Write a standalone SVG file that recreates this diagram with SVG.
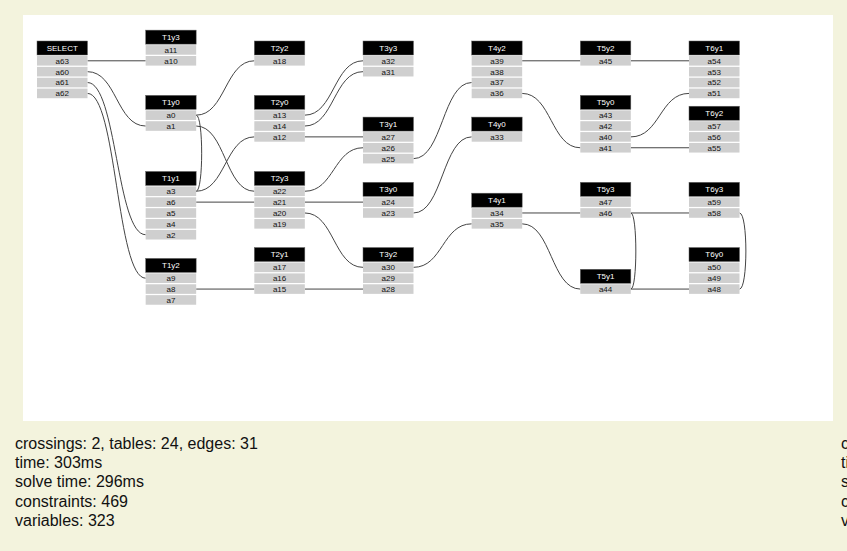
<svg xmlns="http://www.w3.org/2000/svg" width="847" height="551" viewBox="0 0 847 551">
<style>
.h{fill:#000;stroke:#666;stroke-width:0.5}
.ht{fill:#fff;font-family:"Liberation Sans",Arial,sans-serif;font-size:8px;text-anchor:middle}
.r{fill:#cfcfcf}
.rt{fill:#111;font-family:"Liberation Sans",Arial,sans-serif;font-size:8px;text-anchor:middle}
.e{fill:none;stroke:#444;stroke-width:1}
.s{fill:#111;font-family:"Liberation Sans",Arial,sans-serif;font-size:16px}
</style>
<defs>
<rect id="hd" class="h" x="0" y="0" width="50.5" height="14"/>
<rect id="rw" class="r" x="0" y="0" width="50.5" height="9.6"/>
</defs>
<rect x="0" y="0" width="847" height="551" fill="#f3f3dd"/>
<rect x="23" y="15" width="810" height="406" fill="#fff"/>

<g id="connectors">
<path class="e" d="M87.5 60.8H145.67"/>
<path class="e" d="M87.5 71.67C116.58 71.67 116.58 126.02 145.67 126.02"/>
<path class="e" d="M87.5 82.54C116.58 82.54 116.58 234.72 145.67 234.72"/>
<path class="e" d="M87.5 93.41C116.58 93.41 116.58 278.2 145.67 278.2"/>
<path class="e" d="M196.17 115.15C225.25 115.15 225.25 60.8 254.33 60.8"/>
<path class="e" d="M196.17 126.02C225.25 126.02 225.25 191.24 254.33 191.24"/>
<path class="e" d="M196.17 191.24C225.25 191.24 225.25 136.89 254.33 136.89"/>
<path class="e" d="M196.17 202.11H254.33"/>
<path class="e" d="M196.17 289.07H254.33"/>
<path class="e" d="M196.17 115.15C203.5 115.15 203.5 191.24 196.17 191.24"/>
<path class="e" d="M304.83 115.15C333.92 115.15 333.92 60.8 363 60.8"/>
<path class="e" d="M304.83 126.02C333.92 126.02 333.92 71.67 363 71.67"/>
<path class="e" d="M304.83 136.89H363"/>
<path class="e" d="M304.83 191.24C333.92 191.24 333.92 147.76 363 147.76"/>
<path class="e" d="M304.83 202.11H363"/>
<path class="e" d="M304.83 212.98C333.92 212.98 333.92 267.33 363 267.33"/>
<path class="e" d="M304.83 289.07H363"/>
<path class="e" d="M413.5 158.63C442.58 158.63 442.58 82.54 471.67 82.54"/>
<path class="e" d="M413.5 212.98C442.58 212.98 442.58 136.89 471.67 136.89"/>
<path class="e" d="M413.5 267.33C442.58 267.33 442.58 223.85 471.67 223.85"/>
<path class="e" d="M522.17 60.8H580.33"/>
<path class="e" d="M522.17 93.41C551.25 93.41 551.25 147.76 580.33 147.76"/>
<path class="e" d="M522.17 212.98H580.33"/>
<path class="e" d="M522.17 223.85C551.25 223.85 551.25 289.07 580.33 289.07"/>
<path class="e" d="M630.83 60.8H689"/>
<path class="e" d="M630.83 136.89C659.92 136.89 659.92 93.41 689 93.41"/>
<path class="e" d="M630.83 147.76H689"/>
<path class="e" d="M630.83 212.98H689"/>
<path class="e" d="M630.83 289.07H689"/>
<path class="e" d="M630.83 212.98C637.5 212.98 637.5 289.07 630.83 289.07"/>
<path class="e" d="M739.5 212.98C748 212.98 748 289.07 739.5 289.07"/>
</g>

<g id="SELECT" transform="translate(37 41)">
<use href="#hd"/><text class="ht" x="25.25" y="9.9">SELECT</text>
<use href="#rw" y="15"/><text class="rt" x="25.25" y="22.7">a63</text>
<use href="#rw" y="25.87"/><text class="rt" x="25.25" y="33.57">a60</text>
<use href="#rw" y="36.74"/><text class="rt" x="25.25" y="44.44">a61</text>
<use href="#rw" y="47.61"/><text class="rt" x="25.25" y="55.31">a62</text>
</g>

<g id="T1y3" transform="translate(145.67 30.13)">
<use href="#hd"/><text class="ht" x="25.25" y="9.9">T1y3</text>
<use href="#rw" y="15"/><text class="rt" x="25.25" y="22.7">a11</text>
<use href="#rw" y="25.87"/><text class="rt" x="25.25" y="33.57">a10</text>
</g>
<g id="T1y0" transform="translate(145.67 95.35)">
<use href="#hd"/><text class="ht" x="25.25" y="9.9">T1y0</text>
<use href="#rw" y="15"/><text class="rt" x="25.25" y="22.7">a0</text>
<use href="#rw" y="25.87"/><text class="rt" x="25.25" y="33.57">a1</text>
</g>
<g id="T1y1" transform="translate(145.67 171.44)">
<use href="#hd"/><text class="ht" x="25.25" y="9.9">T1y1</text>
<use href="#rw" y="15"/><text class="rt" x="25.25" y="22.7">a3</text>
<use href="#rw" y="25.87"/><text class="rt" x="25.25" y="33.57">a6</text>
<use href="#rw" y="36.74"/><text class="rt" x="25.25" y="44.44">a5</text>
<use href="#rw" y="47.61"/><text class="rt" x="25.25" y="55.31">a4</text>
<use href="#rw" y="58.48"/><text class="rt" x="25.25" y="66.18">a2</text>
</g>
<g id="T1y2" transform="translate(145.67 258.4)">
<use href="#hd"/><text class="ht" x="25.25" y="9.9">T1y2</text>
<use href="#rw" y="15"/><text class="rt" x="25.25" y="22.7">a9</text>
<use href="#rw" y="25.87"/><text class="rt" x="25.25" y="33.57">a8</text>
<use href="#rw" y="36.74"/><text class="rt" x="25.25" y="44.44">a7</text>
</g>

<g id="T2y2" transform="translate(254.33 41)">
<use href="#hd"/><text class="ht" x="25.25" y="9.9">T2y2</text>
<use href="#rw" y="15"/><text class="rt" x="25.25" y="22.7">a18</text>
</g>
<g id="T2y0" transform="translate(254.33 95.35)">
<use href="#hd"/><text class="ht" x="25.25" y="9.9">T2y0</text>
<use href="#rw" y="15"/><text class="rt" x="25.25" y="22.7">a13</text>
<use href="#rw" y="25.87"/><text class="rt" x="25.25" y="33.57">a14</text>
<use href="#rw" y="36.74"/><text class="rt" x="25.25" y="44.44">a12</text>
</g>
<g id="T2y3" transform="translate(254.33 171.44)">
<use href="#hd"/><text class="ht" x="25.25" y="9.9">T2y3</text>
<use href="#rw" y="15"/><text class="rt" x="25.25" y="22.7">a22</text>
<use href="#rw" y="25.87"/><text class="rt" x="25.25" y="33.57">a21</text>
<use href="#rw" y="36.74"/><text class="rt" x="25.25" y="44.44">a20</text>
<use href="#rw" y="47.61"/><text class="rt" x="25.25" y="55.31">a19</text>
</g>
<g id="T2y1" transform="translate(254.33 247.53)">
<use href="#hd"/><text class="ht" x="25.25" y="9.9">T2y1</text>
<use href="#rw" y="15"/><text class="rt" x="25.25" y="22.7">a17</text>
<use href="#rw" y="25.87"/><text class="rt" x="25.25" y="33.57">a16</text>
<use href="#rw" y="36.74"/><text class="rt" x="25.25" y="44.44">a15</text>
</g>

<g id="T3y3" transform="translate(363 41)">
<use href="#hd"/><text class="ht" x="25.25" y="9.9">T3y3</text>
<use href="#rw" y="15"/><text class="rt" x="25.25" y="22.7">a32</text>
<use href="#rw" y="25.87"/><text class="rt" x="25.25" y="33.57">a31</text>
</g>
<g id="T3y1" transform="translate(363 117.09)">
<use href="#hd"/><text class="ht" x="25.25" y="9.9">T3y1</text>
<use href="#rw" y="15"/><text class="rt" x="25.25" y="22.7">a27</text>
<use href="#rw" y="25.87"/><text class="rt" x="25.25" y="33.57">a26</text>
<use href="#rw" y="36.74"/><text class="rt" x="25.25" y="44.44">a25</text>
</g>
<g id="T3y0" transform="translate(363 182.31)">
<use href="#hd"/><text class="ht" x="25.25" y="9.9">T3y0</text>
<use href="#rw" y="15"/><text class="rt" x="25.25" y="22.7">a24</text>
<use href="#rw" y="25.87"/><text class="rt" x="25.25" y="33.57">a23</text>
</g>
<g id="T3y2" transform="translate(363 247.53)">
<use href="#hd"/><text class="ht" x="25.25" y="9.9">T3y2</text>
<use href="#rw" y="15"/><text class="rt" x="25.25" y="22.7">a30</text>
<use href="#rw" y="25.87"/><text class="rt" x="25.25" y="33.57">a29</text>
<use href="#rw" y="36.74"/><text class="rt" x="25.25" y="44.44">a28</text>
</g>

<g id="T4y2" transform="translate(471.67 41)">
<use href="#hd"/><text class="ht" x="25.25" y="9.9">T4y2</text>
<use href="#rw" y="15"/><text class="rt" x="25.25" y="22.7">a39</text>
<use href="#rw" y="25.87"/><text class="rt" x="25.25" y="33.57">a38</text>
<use href="#rw" y="36.74"/><text class="rt" x="25.25" y="44.44">a37</text>
<use href="#rw" y="47.61"/><text class="rt" x="25.25" y="55.31">a36</text>
</g>
<g id="T4y0" transform="translate(471.67 117.09)">
<use href="#hd"/><text class="ht" x="25.25" y="9.9">T4y0</text>
<use href="#rw" y="15"/><text class="rt" x="25.25" y="22.7">a33</text>
</g>
<g id="T4y1" transform="translate(471.67 193.18)">
<use href="#hd"/><text class="ht" x="25.25" y="9.9">T4y1</text>
<use href="#rw" y="15"/><text class="rt" x="25.25" y="22.7">a34</text>
<use href="#rw" y="25.87"/><text class="rt" x="25.25" y="33.57">a35</text>
</g>

<g id="T5y2" transform="translate(580.33 41)">
<use href="#hd"/><text class="ht" x="25.25" y="9.9">T5y2</text>
<use href="#rw" y="15"/><text class="rt" x="25.25" y="22.7">a45</text>
</g>
<g id="T5y0" transform="translate(580.33 95.35)">
<use href="#hd"/><text class="ht" x="25.25" y="9.9">T5y0</text>
<use href="#rw" y="15"/><text class="rt" x="25.25" y="22.7">a43</text>
<use href="#rw" y="25.87"/><text class="rt" x="25.25" y="33.57">a42</text>
<use href="#rw" y="36.74"/><text class="rt" x="25.25" y="44.44">a40</text>
<use href="#rw" y="47.61"/><text class="rt" x="25.25" y="55.31">a41</text>
</g>
<g id="T5y3" transform="translate(580.33 182.31)">
<use href="#hd"/><text class="ht" x="25.25" y="9.9">T5y3</text>
<use href="#rw" y="15"/><text class="rt" x="25.25" y="22.7">a47</text>
<use href="#rw" y="25.87"/><text class="rt" x="25.25" y="33.57">a46</text>
</g>
<g id="T5y1" transform="translate(580.33 269.27)">
<use href="#hd"/><text class="ht" x="25.25" y="9.9">T5y1</text>
<use href="#rw" y="15"/><text class="rt" x="25.25" y="22.7">a44</text>
</g>

<g id="T6y1" transform="translate(689 41)">
<use href="#hd"/><text class="ht" x="25.25" y="9.9">T6y1</text>
<use href="#rw" y="15"/><text class="rt" x="25.25" y="22.7">a54</text>
<use href="#rw" y="25.87"/><text class="rt" x="25.25" y="33.57">a53</text>
<use href="#rw" y="36.74"/><text class="rt" x="25.25" y="44.44">a52</text>
<use href="#rw" y="47.61"/><text class="rt" x="25.25" y="55.31">a51</text>
</g>
<g id="T6y2" transform="translate(689 106.22)">
<use href="#hd"/><text class="ht" x="25.25" y="9.9">T6y2</text>
<use href="#rw" y="15"/><text class="rt" x="25.25" y="22.7">a57</text>
<use href="#rw" y="25.87"/><text class="rt" x="25.25" y="33.57">a56</text>
<use href="#rw" y="36.74"/><text class="rt" x="25.25" y="44.44">a55</text>
</g>
<g id="T6y3" transform="translate(689 182.31)">
<use href="#hd"/><text class="ht" x="25.25" y="9.9">T6y3</text>
<use href="#rw" y="15"/><text class="rt" x="25.25" y="22.7">a59</text>
<use href="#rw" y="25.87"/><text class="rt" x="25.25" y="33.57">a58</text>
</g>
<g id="T6y0" transform="translate(689 247.53)">
<use href="#hd"/><text class="ht" x="25.25" y="9.9">T6y0</text>
<use href="#rw" y="15"/><text class="rt" x="25.25" y="22.7">a50</text>
<use href="#rw" y="25.87"/><text class="rt" x="25.25" y="33.57">a49</text>
<use href="#rw" y="36.74"/><text class="rt" x="25.25" y="44.44">a48</text>
</g>

<g id="stats">
<text class="s" x="15" y="449">crossings: 2, tables: 24, edges: 31</text>
<text class="s" x="15" y="468.2">time: 303ms</text>
<text class="s" x="15" y="487.4">solve time: 296ms</text>
<text class="s" x="15" y="506.6">constraints: 469</text>
<text class="s" x="15" y="525.8">variables: 323</text>
</g>
<g id="stats2">
<text class="s" x="841" y="449">crossings: 2, tables: 24, edges: 31</text>
<text class="s" x="841" y="468.2">time: 303ms</text>
<text class="s" x="841" y="487.4">solve time: 296ms</text>
<text class="s" x="841" y="506.6">constraints: 469</text>
<text class="s" x="841" y="525.8">variables: 323</text>
</g>
</svg>
